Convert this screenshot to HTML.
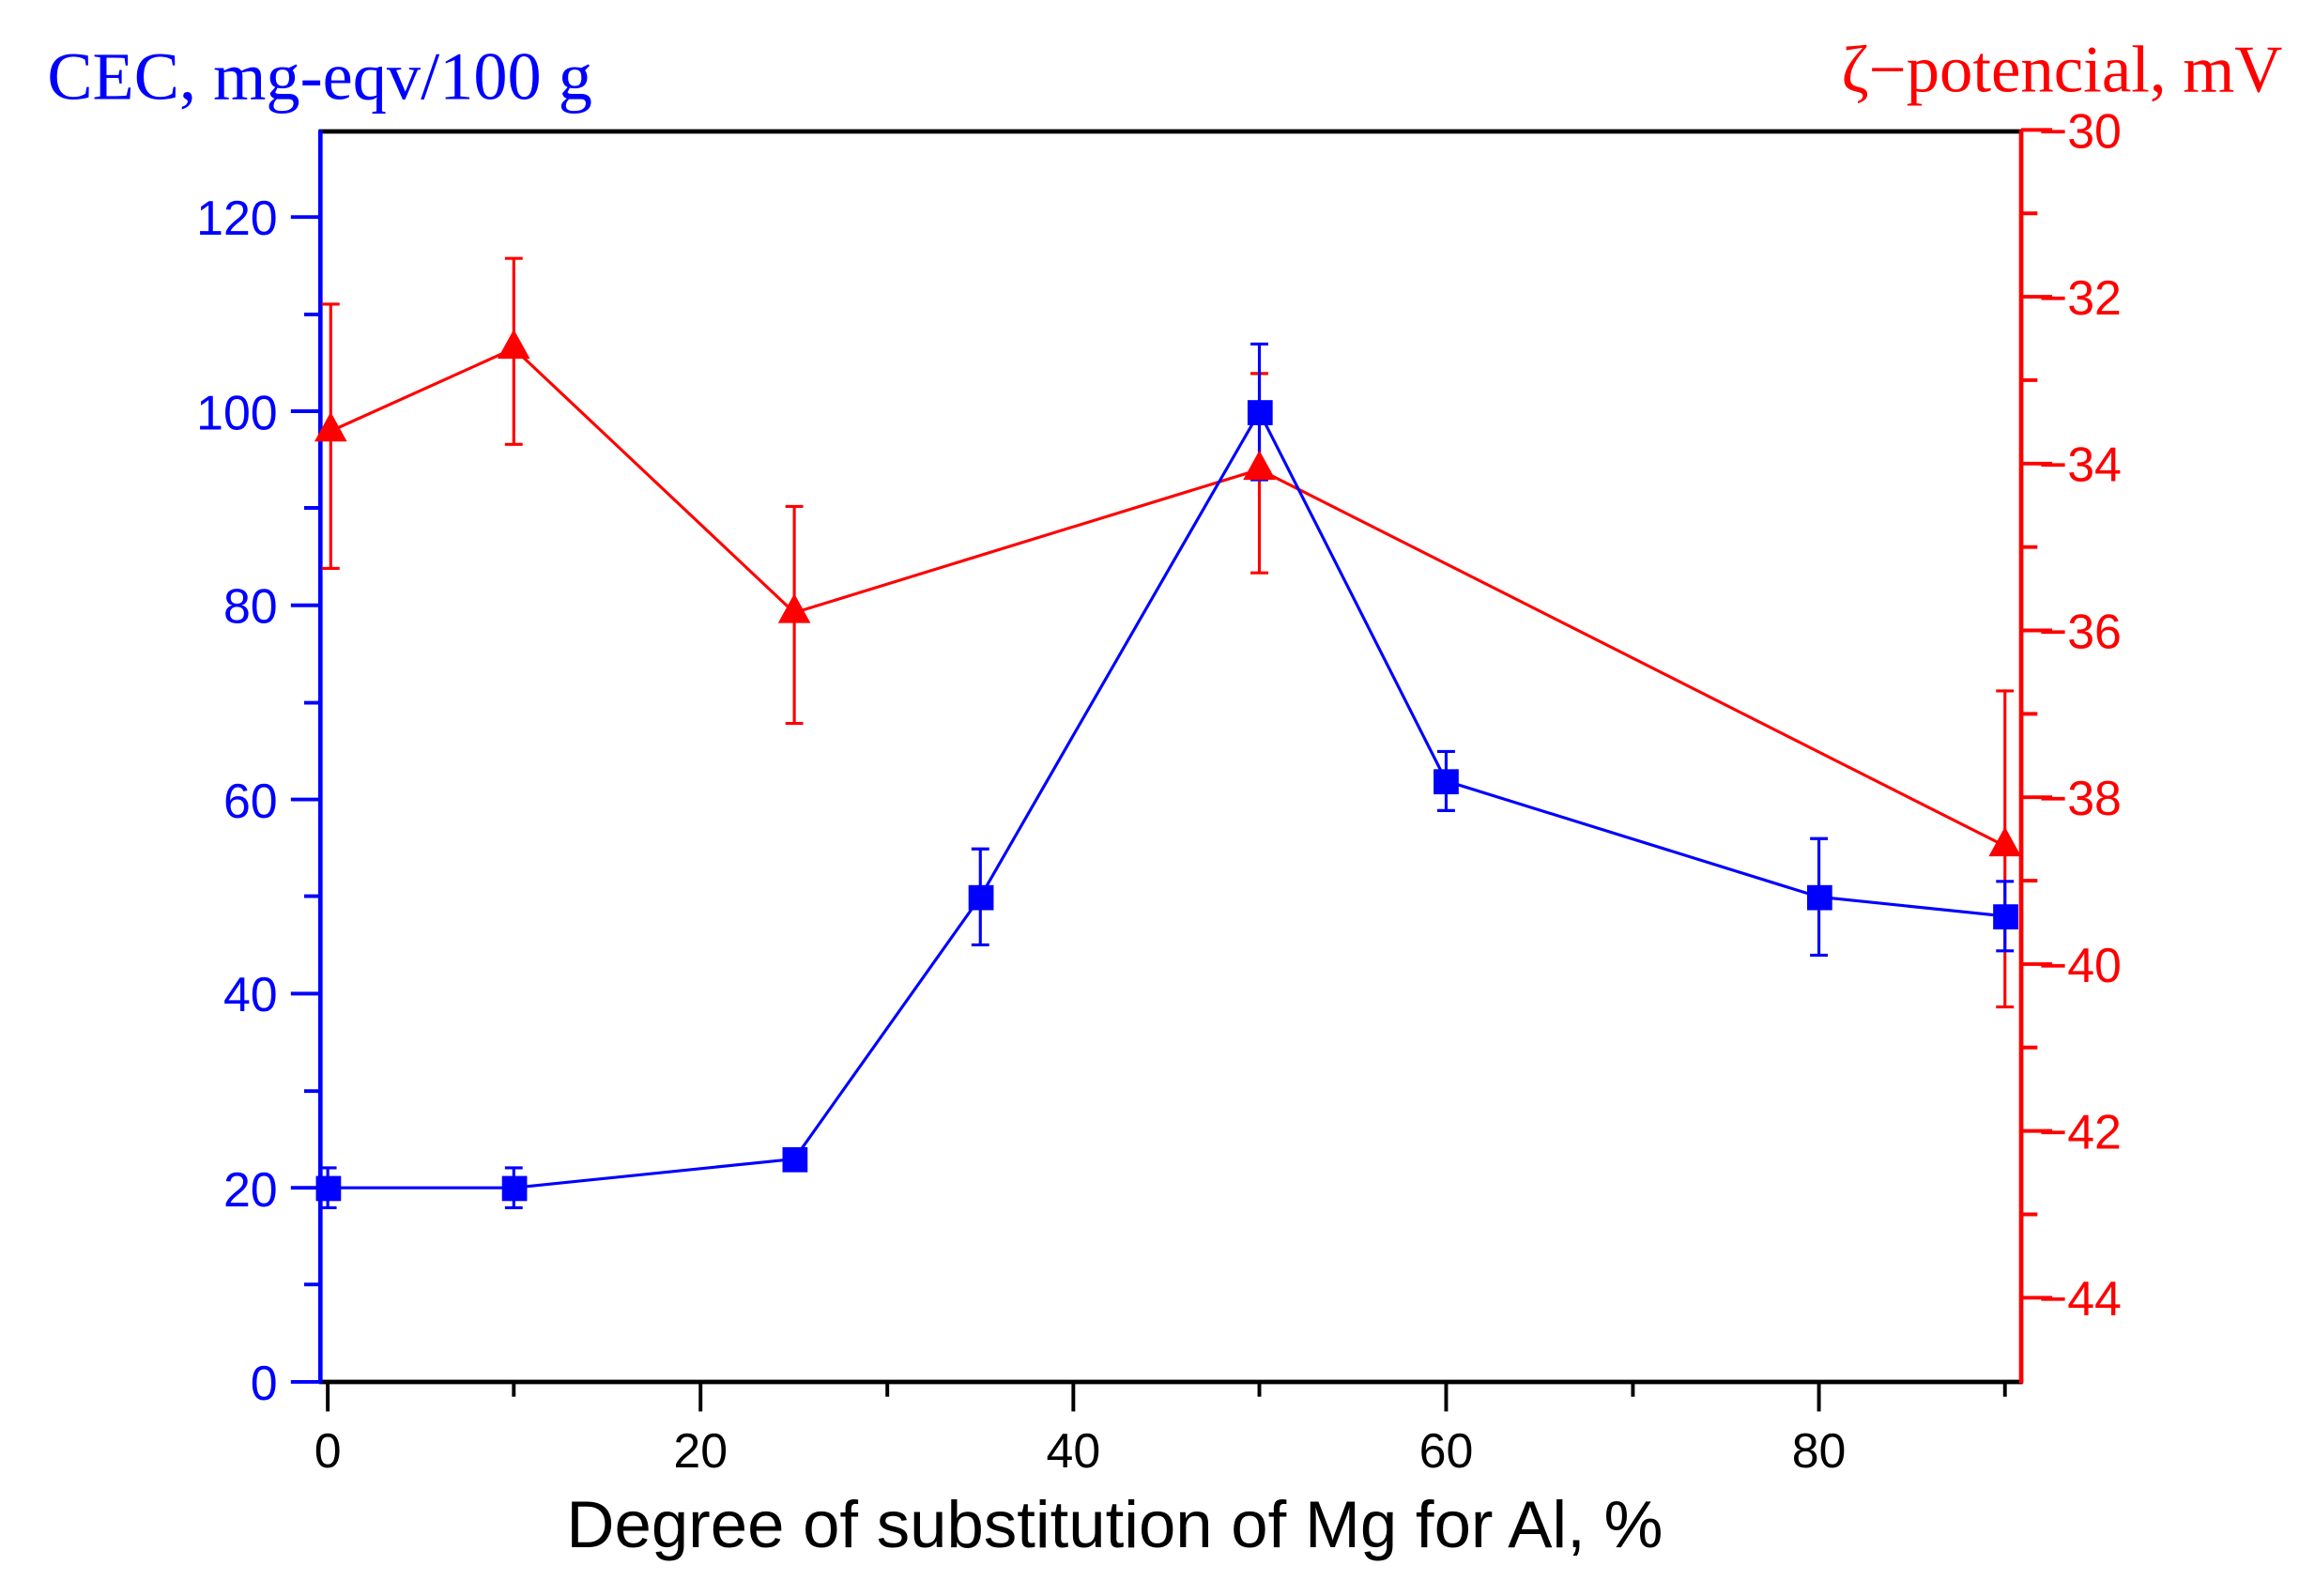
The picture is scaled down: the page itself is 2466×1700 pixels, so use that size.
<!DOCTYPE html>
<html><head><style>html,body{margin:0;padding:0;background:#fff}svg{display:block}</style></head><body>
<svg width="2466" height="1700" viewBox="0 0 1568 1081" xmlns="http://www.w3.org/2000/svg" preserveAspectRatio="none">
<rect width="1568" height="1081" fill="#fff"/>
<g font-family="Liberation Sans, Arial, sans-serif">
<line x1="216" y1="89" x2="1370" y2="89" stroke="#000" stroke-width="3"/>
<line x1="216" y1="936" x2="1370" y2="936" stroke="#000" stroke-width="3"/>
<line x1="217" y1="88" x2="217" y2="937" stroke="#0000ff" stroke-width="3"/>
<line x1="1369" y1="88" x2="1369" y2="937" stroke="#ff0000" stroke-width="3"/>
<g stroke="#0000ff" stroke-width="2.5">
<line x1="197" y1="936" x2="217" y2="936"/><line x1="197" y1="804.5" x2="217" y2="804.5"/><line x1="197" y1="673" x2="217" y2="673"/><line x1="197" y1="541.5" x2="217" y2="541.5"/><line x1="197" y1="410" x2="217" y2="410"/><line x1="197" y1="278.5" x2="217" y2="278.5"/><line x1="197" y1="147" x2="217" y2="147"/>
<line x1="206" y1="870" x2="217" y2="870"/><line x1="206" y1="739" x2="217" y2="739"/><line x1="206" y1="607" x2="217" y2="607"/><line x1="206" y1="476" x2="217" y2="476"/><line x1="206" y1="344" x2="217" y2="344"/><line x1="206" y1="213" x2="217" y2="213"/>
</g>
<g fill="#0000ff" font-size="33" text-anchor="end">
<text x="188" y="948">0</text><text x="188" y="817">20</text><text x="188" y="685">40</text><text x="188" y="554">60</text><text x="188" y="422">80</text><text x="188" y="291">100</text><text x="188" y="159">120</text>
</g>
<g stroke="#ff0000" stroke-width="2.5">
<line x1="1369" y1="88" x2="1390" y2="88"/><line x1="1369" y1="201" x2="1390" y2="201"/><line x1="1369" y1="314" x2="1390" y2="314"/><line x1="1369" y1="427" x2="1390" y2="427"/><line x1="1369" y1="540" x2="1390" y2="540"/><line x1="1369" y1="653" x2="1390" y2="653"/><line x1="1369" y1="766" x2="1390" y2="766"/><line x1="1369" y1="879" x2="1390" y2="879"/>
<line x1="1369" y1="144.5" x2="1380" y2="144.5"/><line x1="1369" y1="257.5" x2="1380" y2="257.5"/><line x1="1369" y1="370.5" x2="1380" y2="370.5"/><line x1="1369" y1="483.5" x2="1380" y2="483.5"/><line x1="1369" y1="596.5" x2="1380" y2="596.5"/><line x1="1369" y1="709.5" x2="1380" y2="709.5"/><line x1="1369" y1="822.5" x2="1380" y2="822.5"/>
</g>
<g fill="#ff0000" font-size="33">
<text x="1381" y="100">−30</text><text x="1381" y="213">−32</text><text x="1381" y="326">−34</text><text x="1381" y="439">−36</text><text x="1381" y="552">−38</text><text x="1381" y="665">−40</text><text x="1381" y="778">−42</text><text x="1381" y="891">−44</text>
</g>
<g stroke="#000" stroke-width="2.5">
<line x1="222" y1="936" x2="222" y2="956"/><line x1="474.5" y1="936" x2="474.5" y2="956"/><line x1="727" y1="936" x2="727" y2="956"/><line x1="979.5" y1="936" x2="979.5" y2="956"/><line x1="1232" y1="936" x2="1232" y2="956"/>
<line x1="348" y1="936" x2="348" y2="946"/><line x1="601" y1="936" x2="601" y2="946"/><line x1="853" y1="936" x2="853" y2="946"/><line x1="1106" y1="936" x2="1106" y2="946"/><line x1="1358" y1="936" x2="1358" y2="946"/>
</g>
<g fill="#000" font-size="33" text-anchor="middle">
<text x="222" y="994">0</text><text x="474.5" y="994">20</text><text x="727" y="994">40</text><text x="979.5" y="994">60</text><text x="1232" y="994">80</text>
</g>
<text x="755" y="1048" font-size="45" text-anchor="middle" fill="#000">Degree of substitution of Mg for Al, %</text>
<text x="32" y="67" font-size="46" fill="#0000ff" font-family="Liberation Serif, serif">CEC, mg-eqv/100 g</text>
<text x="1546" y="62" font-size="45" fill="#ff0000" font-family="Liberation Serif, serif" text-anchor="end">ζ−potencial, mV</text>
<g stroke="#ff0000" stroke-width="2" fill="none">
<polyline points="224,292 348,236 538,415 853,318 1358,573"/>
<line x1="224" y1="206" x2="224" y2="385"/><line x1="218" y1="206" x2="230" y2="206"/><line x1="218" y1="385" x2="230" y2="385"/>
<line x1="348" y1="175" x2="348" y2="301"/><line x1="342" y1="175" x2="354" y2="175"/><line x1="342" y1="301" x2="354" y2="301"/>
<line x1="538" y1="343" x2="538" y2="490"/><line x1="532" y1="343" x2="544" y2="343"/><line x1="532" y1="490" x2="544" y2="490"/>
<line x1="853" y1="253" x2="853" y2="388"/><line x1="847" y1="253" x2="859" y2="253"/><line x1="847" y1="388" x2="859" y2="388"/>
<line x1="1358" y1="468" x2="1358" y2="682"/><line x1="1352" y1="468" x2="1364" y2="468"/><line x1="1352" y1="682" x2="1364" y2="682"/>
</g>
<g stroke="#0000ff" stroke-width="2" fill="none">
<polyline points="222,804.5 348,804.5 538,785 664,607.5 853,279 979.5,529 1232,607.5 1358,620.5"/>
<line x1="222" y1="791" x2="222" y2="818"/><line x1="216" y1="791" x2="228" y2="791"/><line x1="216" y1="818" x2="228" y2="818"/>
<line x1="348" y1="791" x2="348" y2="818"/><line x1="342" y1="791" x2="354" y2="791"/><line x1="342" y1="818" x2="354" y2="818"/>
<line x1="664" y1="575" x2="664" y2="640"/><line x1="658" y1="575" x2="670" y2="575"/><line x1="658" y1="640" x2="670" y2="640"/>
<line x1="853" y1="233" x2="853" y2="325"/><line x1="847" y1="233" x2="859" y2="233"/><line x1="847" y1="325" x2="859" y2="325"/>
<line x1="979.5" y1="509" x2="979.5" y2="549"/><line x1="973.5" y1="509" x2="985.5" y2="509"/><line x1="973.5" y1="549" x2="985.5" y2="549"/>
<line x1="1232" y1="568" x2="1232" y2="647"/><line x1="1226" y1="568" x2="1238" y2="568"/><line x1="1226" y1="647" x2="1238" y2="647"/>
<line x1="1358" y1="597" x2="1358" y2="644"/><line x1="1352" y1="597" x2="1364" y2="597"/><line x1="1352" y1="644" x2="1364" y2="644"/>
</g>
<g fill="#0000ff">
<rect x="214" y="796.5" width="17" height="17"/><rect x="340" y="796.5" width="17" height="17"/><rect x="530" y="777" width="17" height="17"/><rect x="656" y="599.5" width="17" height="17"/><rect x="845" y="271" width="17" height="17"/><rect x="971" y="521" width="17" height="17"/><rect x="1224" y="599.5" width="17" height="17"/><rect x="1350" y="612.5" width="17" height="17"/>
</g>
<g fill="#ff0000">
<polygon points="224,279 235,299 213,299"/><polygon points="348,223 359,243 337,243"/><polygon points="538,402 549,422 527,422"/><polygon points="853,305 864,325 842,325"/><polygon points="1358,560 1369,580 1347,580"/>
</g>
</g>
</svg>
</body></html>
